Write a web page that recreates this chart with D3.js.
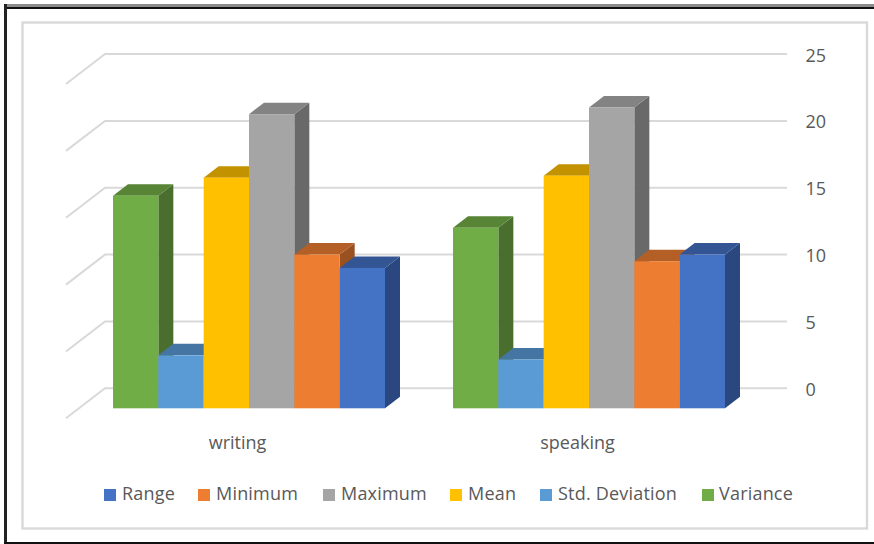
<!DOCTYPE html>
<html>
<head>
<meta charset="utf-8">
<script src="https://cdn.jsdelivr.net/npm/d3@7"></script>
<style>
html,body{margin:0;padding:0;background:#fff;}
svg{display:block;font-family:"Open Sans",sans-serif;}
</style>
</head>
<body>
<svg id="chart" width="874" height="544"></svg>
<script>
const categories = ["writing", "speaking"];
const seriesNames = ["Variance", "Std. Deviation", "Mean", "Maximum", "Minimum", "Range"];
const legendOrder = ["Range", "Minimum", "Maximum", "Mean", "Std. Deviation", "Variance"];
const writingValues = [15.9, 3.96, 17.25, 22.0, 11.5, 10.5];
const speakingValues = [13.5, 3.65, 17.4, 22.5, 11.0, 11.5];
const yTicks = [0, 5, 10, 15, 20, 25];
const frontColors = ["#70AD47", "#5B9BD5", "#FFC000", "#A5A5A5", "#ED7D31", "#4472C4"];
const topColors = ["#588535", "#4576A3", "#C29200", "#838383", "#B45F25", "#335594"];
const sideColors = ["#4A6E2D", "#3E6A92", "#A67D00", "#696969", "#9A5120", "#2A4780"];

const svg = d3.select("#chart");

// Window edge along the top, left and bottom
svg.append("rect").attr("x", 4).attr("y", 4).attr("width", 870).attr("height", 3).attr("fill", "#8c8c8c");
svg.append("rect").attr("x", 4).attr("y", 7).attr("width", 870).attr("height", 2).attr("fill", "#111");
svg.append("rect").attr("x", 4).attr("y", 4).attr("width", 3).attr("height", 540).attr("fill", "#222");
svg.append("rect").attr("x", 4).attr("y", 542).attr("width", 870).attr("height", 2).attr("fill", "#111");

// Chart area outline
svg.append("rect").attr("x", 22.5).attr("y", 22.5).attr("width", 844.5).attr("height", 506)
  .attr("fill", "#fff").attr("stroke", "#d9d9d9").attr("stroke-width", 2.4);

// Oblique projection: the bars sit part way into the floor, the walls at full depth
const barDepth = {dx: 15, dy: -11.5};
const wallDepth = {dx: 39, dy: -30};
const floorFront = 408.3;
const backOffset = 20;

const y = d3.scaleLinear().domain([0, 25]).range([floorFront, floorFront - 25 * 13.37]);
const x0 = d3.scaleBand().domain(categories).range([73, 753]);
const x1 = d3.scaleBand().domain(seriesNames).range([40, 40 + 272]);

// Gridlines run across the back wall and fold forward along the side wall
const grid = svg.append("g").attr("fill", "none").attr("stroke", "#d9d9d9").attr("stroke-width", 2);
yTicks.forEach(t => {
  const yb = y(t) - backOffset;
  const path = d3.path();
  path.moveTo(105 - wallDepth.dx, yb - wallDepth.dy);
  path.lineTo(105, yb);
  path.lineTo(787, yb);
  grid.append("path").attr("d", path.toString());
});

// Value labels on the right
svg.append("g").selectAll("text").data(yTicks).join("text")
  .attr("x", 805.5).attr("y", d => y(d) - backOffset + 7.5)
  .attr("font-size", 18).attr("fill", "#595959").text(d => d);

const poly = pts => d3.line()(pts) + "Z";

// Bars are painted left to right so each one covers its neighbour's side face
const barLayer = svg.append("g");
categories.forEach((cat, ci) => {
  const vals = ci === 0 ? writingValues : speakingValues;
  seriesNames.forEach((name, si) => {
    const l = x0(cat) + x1(name), r = l + x1.bandwidth();
    const t = y(vals[si]), b = y(0);
    const {dx, dy} = barDepth;
    const g = barLayer.append("g");
    g.append("path").attr("d", poly([[r, t], [r + dx, t + dy], [r + dx, b + dy], [r, b]])).attr("fill", sideColors[si]);
    g.append("path").attr("d", poly([[l, t], [l + dx, t + dy], [r + dx, t + dy], [r, t]])).attr("fill", topColors[si]);
    g.append("rect").attr("x", l).attr("y", t).attr("width", r - l).attr("height", b - t).attr("fill", frontColors[si]);
  });
});

// Category labels
svg.append("g").selectAll("text").data(categories).join("text")
  .attr("x", d => x0(d) + x0.bandwidth() / 2 - 5.5).attr("y", 449)
  .attr("text-anchor", "middle").attr("font-size", 18).attr("fill", "#595959").text(d => d);

// Legend
const swatchX = [104, 198, 323, 450, 540, 702];
const labelX = [122, 216, 341, 468, 558, 719];
const legend = svg.append("g");
legendOrder.forEach((name, i) => {
  const color = frontColors[seriesNames.indexOf(name)];
  legend.append("rect").attr("x", swatchX[i]).attr("y", 489).attr("width", 12).attr("height", 12).attr("fill", color);
  legend.append("text").attr("x", labelX[i]).attr("y", 500)
    .attr("font-size", 18).attr("letter-spacing", 0.2).attr("fill", "#595959").text(name);
});
</script>
</body>
</html>
